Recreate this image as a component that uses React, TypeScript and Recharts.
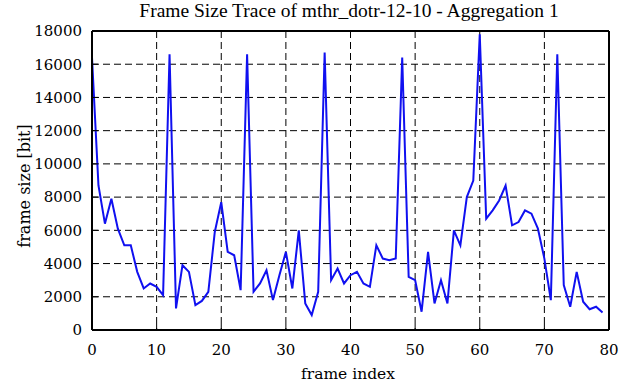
import { LineChart, Line, XAxis, YAxis, CartesianGrid, Label } from "recharts";

const frameSize = [
  16400, 8700, 6400, 7900, 6100, 5100, 5100, 3500, 2500, 2800,
  2600, 2100, 16600, 1300, 3900, 3500, 1500, 1750, 2300, 5900,
  7700, 4700, 4500, 2400, 16600, 2300, 2800, 3600, 1800, 3300,
  4700, 2500, 6000, 1600, 900, 2300, 16700, 3000, 3700, 2800,
  3300, 3500, 2800, 2600, 5100, 4300, 4200, 4300, 16400, 3200,
  3000, 1100, 4700, 1600, 3000, 1600, 6000, 5100, 8000, 9000,
  17800, 6700, 7200, 7800, 8700, 6300, 6500, 7200, 7000, 6100,
  4300, 1800, 16600, 2700, 1400, 3500, 1700, 1250, 1400, 1050,
];
const xTicks = [0, 10, 20, 30, 40, 50, 60, 70, 80];
const yTicks = [0, 2000, 4000, 6000, 8000, 10000, 12000, 14000, 16000, 18000];

const FONT = "DejaVu Serif";
const data = frameSize.map((v, i) => ({ idx: i, size: v }));

const tickStyle = { fill: "#000", fontSize: 15, fontFamily: FONT };
const axisLine = { stroke: "#000", strokeWidth: 2 };
const tickLine = { stroke: "#000", strokeWidth: 1 };

export default function App() {
  return (
    <div style={{ position: "absolute", left: 0, top: 0, background: "#fff" }}>
      <LineChart
        width={621}
        height={382}
        data={data}
        margin={{ top: 30, right: 11, bottom: 0, left: 0 }}
      >
        <CartesianGrid
          xAxisId="bottom"
          yAxisId="left"
          stroke="#000"
          strokeDasharray="7 4"
        />
        <XAxis
          xAxisId="bottom"
          type="number"
          dataKey="idx"
          domain={[0, 80]}
          ticks={xTicks}
          height={52}
          tickSize={-6}
          tickMargin={20}
          tick={tickStyle}
          axisLine={axisLine}
          tickLine={tickLine}
        >
          <Label
            content={() => (
              <text x={348} y={379} textAnchor="middle" fontSize={15.5} fontFamily={FONT} fill="#000">
                frame index
              </text>
            )}
          />
        </XAxis>
        <XAxis
          xAxisId="top"
          orientation="top"
          type="number"
          dataKey="idx"
          domain={[0, 80]}
          ticks={xTicks}
          height={1}
          tickSize={-6}
          tick={false}
          axisLine={axisLine}
          tickLine={tickLine}
        >
          <Label
            content={() => (
              <text
                x={349}
                y={17}
                textAnchor="middle"
                fontSize={19.5}
                fontFamily="Liberation Serif"
                fill="#000"
              >
                Frame Size Trace of mthr_dotr-12-10 - Aggregation 1
              </text>
            )}
          />
        </XAxis>
        <YAxis
          yAxisId="left"
          type="number"
          domain={[0, 18000]}
          ticks={yTicks}
          width={92}
          tickSize={-6}
          tickMargin={16}
          tick={tickStyle}
          axisLine={axisLine}
          tickLine={tickLine}
        >
          <Label
            content={() => (
              <text
                x={30}
                y={186}
                transform="rotate(-90 30 186)"
                textAnchor="middle"
                fontSize={16}
                fontFamily={FONT}
                fill="#000"
              >
                frame size [bit]
              </text>
            )}
          />
        </YAxis>
        <YAxis
          yAxisId="right"
          orientation="right"
          type="number"
          domain={[0, 18000]}
          ticks={yTicks}
          width={1}
          tickSize={-6}
          tick={false}
          axisLine={axisLine}
          tickLine={tickLine}
        />
        <Line
          xAxisId="bottom"
          yAxisId="left"
          type="linear"
          dataKey="size"
          stroke="#1010f0"
          strokeWidth={2}
          dot={false}
          isAnimationActive={false}
        />
      </LineChart>
    </div>
  );
}
